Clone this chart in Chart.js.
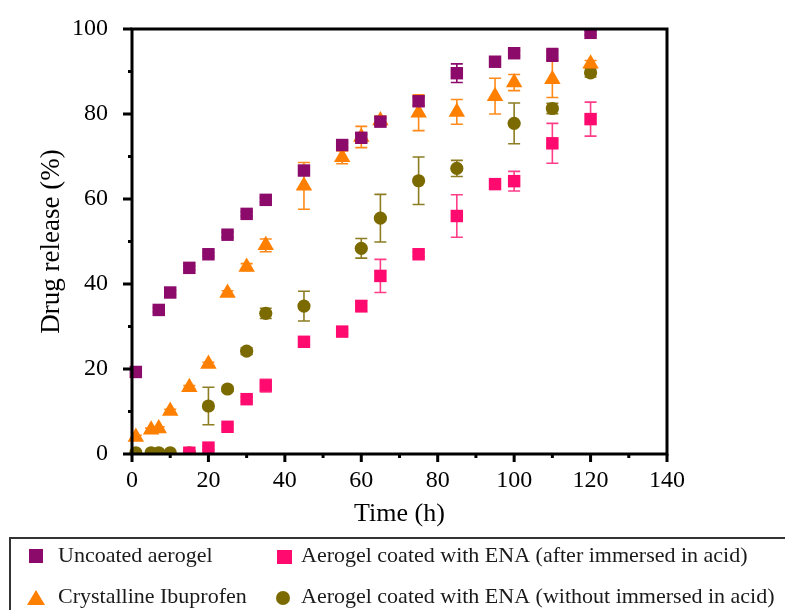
<!DOCTYPE html>
<html>
<head>
<meta charset="utf-8">
<title>Drug release</title>
<script src="https://cdn.jsdelivr.net/npm/chart.js@4.4.0/dist/chart.umd.min.js"></script>
<style>
    html, body { margin: 0; padding: 0; background: #fff; }
    #wrap { width: 785px; height: 610px; }
</style>
</head>
<body>
<div id="wrap"><canvas id="grafico" width="785" height="610"></canvas></div>
<script>
// Uncoated aerogel
const tempoUncoated = [1, 7, 10, 15, 20, 25, 30, 35, 45, 55, 60, 65, 75, 85, 95, 100, 110, 120];
const liberacaoUncoated = [19.3, 33.9, 38.0, 43.8, 47.0, 51.6, 56.5, 59.8, 66.7, 72.7, 74.4, 78.2, 83.0, 89.6, 92.3, 94.3, 93.9, 99.1];
const erroUncoated = [0.4, 0.5, 0.5, 0.5, 0.4, 0.6, 0.5, 0.5, 1.0, 0.6, 0.8, 0.8, 1.0, 2.2, 0.8, 0.6, 1.5, 0.5];

// Crystalline Ibuprofen
const tempoIbuprofeno = [1, 5, 7, 10, 15, 20, 25, 30, 35, 45, 55, 60, 65, 75, 85, 95, 100, 110, 120];
const liberacaoIbuprofeno = [4.0, 5.7, 6.0, 10.1, 15.7, 21.2, 37.9, 44.0, 49.1, 63.1, 69.8, 74.6, 78.5, 80.3, 80.5, 84.2, 87.4, 88.2, 91.8];
const erroIbuprofeno = [0.4, 0.4, 0.4, 0.4, 0.4, 0.4, 0.5, 0.8, 1.5, 5.5, 1.5, 2.5, 1.0, 4.2, 2.9, 4.2, 1.9, 4.3, 0.8];

// ENA, depois de imerso em ácido
const tempoAcido = [15, 20, 25, 30, 35, 45, 55, 60, 65, 75, 85, 95, 100, 110, 120];
const liberacaoAcido = [0.3, 1.5, 6.4, 12.9, 16.1, 26.4, 28.8, 34.8, 41.9, 47.0, 56.0, 63.5, 64.2, 73.1, 78.8];
const erroAcido = [0.3, 0.4, 0.5, 0.5, 1.5, 0.5, 0.5, 1.3, 3.9, 0.5, 5.0, 0.5, 2.3, 4.7, 4.0];

// ENA, sem imersão em ácido
const tempoSemAcido = [1, 5, 7, 10, 15, 20, 25, 30, 35, 45, 60, 65, 75, 85, 100, 110, 120];
const liberacaoSemAcido = [0.3, 0.3, 0.3, 0.3, 0.3, 11.3, 15.3, 24.2, 33.1, 34.8, 48.4, 55.5, 64.3, 67.2, 77.8, 81.3, 89.7];
const erroSemAcido = [0.2, 0.2, 0.2, 0.2, 0.2, 4.4, 0.5, 0.8, 1.2, 3.5, 2.3, 5.6, 5.6, 1.9, 4.8, 1.2, 1.0];

const rotulos = [
    'Uncoated aerogel',
    'Crystalline Ibuprofen',
    'Aerogel coated with ENA (after immersed in acid)',
    'Aerogel coated with ENA (without immersed in acid)'
];

// Marcas dos eixos
const ticksX = [0, 20, 40, 60, 80, 100, 120, 140];
const ticksXMenores = [10, 30, 50, 70, 90, 110, 130];
const ticksY = [0, 20, 40, 60, 80, 100];
const ticksYMenores = [10, 30, 50, 70, 90];

document.addEventListener('DOMContentLoaded', function() {
    const ctx = document.getElementById('grafico').getContext('2d');
    const fonte = '"Liberation Serif", "Times New Roman", serif';

    const cores = {
        roxo: '#8B0A6A',
        laranja: '#FF7F00',
        rosa: '#FF0A6E',
        oliva: '#7B6A00'
    };

    function pontos(tempos, valores) {
        return tempos.map((t, i) => ({ x: t, y: valores[i] }));
    }

    // Barras de erro desenhadas antes de cada série (ficam atrás dos marcadores)
    const barrasErro = {
        id: 'barrasErro',
        beforeDatasetDraw(chart, args) {
            const ds = chart.data.datasets[args.index];
            if (!ds.erros) return;
            const meta = chart.getDatasetMeta(args.index);
            const y = chart.scales.y;
            const c = chart.ctx;
            const area = chart.chartArea;
            c.save();
            c.beginPath();
            c.rect(area.left, area.top, area.right - area.left, area.bottom - area.top);
            c.clip();
            c.strokeStyle = ds.corErro;
            c.lineWidth = 1.6;
            meta.data.forEach((p, i) => {
                const v = ds.data[i].y;
                const e = ds.erros[i];
                const yTopo = y.getPixelForValue(v + e);
                const yBase = y.getPixelForValue(v - e);
                c.beginPath();
                c.moveTo(p.x, yTopo);
                c.lineTo(p.x, yBase);
                c.moveTo(p.x - 6, yTopo);
                c.lineTo(p.x + 6, yTopo);
                c.moveTo(p.x - 6, yBase);
                c.lineTo(p.x + 6, yBase);
                c.stroke();
            });
            c.restore();
        }
    };

    // Moldura e marcas dos eixos
    const moldura = {
        id: 'moldura',
        afterDatasetsDraw(chart) {
            const c = chart.ctx;
            const area = chart.chartArea;
            const x = chart.scales.x;
            const y = chart.scales.y;
            c.save();
            c.strokeStyle = '#000';
            c.lineWidth = 3;
            c.strokeRect(area.left, area.top, area.right - area.left, area.bottom - area.top);
            c.beginPath();
            ticksX.forEach(v => {
                const px = x.getPixelForValue(v);
                c.moveTo(px, area.bottom);
                c.lineTo(px, area.bottom + 8);
            });
            ticksXMenores.forEach(v => {
                const px = x.getPixelForValue(v);
                c.moveTo(px, area.bottom);
                c.lineTo(px, area.bottom + 4);
            });
            ticksY.forEach(v => {
                const py = y.getPixelForValue(v);
                c.moveTo(area.left, py);
                c.lineTo(area.left - 9, py);
            });
            ticksYMenores.forEach(v => {
                const py = y.getPixelForValue(v);
                c.moveTo(area.left, py);
                c.lineTo(area.left - 4, py);
            });
            c.stroke();
            c.restore();
        }
    };

    // Legenda em caixa, duas colunas
    const legenda = {
        id: 'legenda',
        afterDraw(chart) {
            const c = chart.ctx;
            c.save();
            c.strokeStyle = '#333';
            c.lineWidth = 2;
            c.strokeRect(10, 538, 800, 100);

            // marcadores
            c.fillStyle = cores.roxo;
            c.fillRect(29, 549, 14, 14);
            c.fillStyle = cores.rosa;
            c.fillRect(277, 550, 15, 14);
            c.fillStyle = cores.laranja;
            c.beginPath();
            c.moveTo(36, 590);
            c.lineTo(45, 605);
            c.lineTo(27, 605);
            c.closePath();
            c.fill();
            c.fillStyle = cores.oliva;
            c.beginPath();
            c.arc(283, 598, 7, 0, Math.PI * 2);
            c.fill();

            c.fillStyle = '#1a1a1a';
            c.font = '22px ' + fonte;
            c.textBaseline = 'middle';
            c.fillText(rotulos[0], 58, 556);
            c.fillText(rotulos[1], 58, 597);
            c.fillText(rotulos[2], 301, 556);
            c.fillText(rotulos[3], 301, 597);
            c.restore();
        }
    };

    const grafico = new Chart(ctx, {
        type: 'scatter',
        data: {
            datasets: [
                {
                    label: rotulos[0],
                    data: pontos(tempoUncoated, liberacaoUncoated),
                    erros: erroUncoated,
                    corErro: cores.roxo,
                    pointStyle: 'rect',
                    pointRadius: 8.8,
                    borderWidth: 0,
                    backgroundColor: cores.roxo
                },
                {
                    label: rotulos[1],
                    data: pontos(tempoIbuprofeno, liberacaoIbuprofeno),
                    erros: erroIbuprofeno,
                    corErro: '#FF8A1A',
                    pointStyle: 'triangle',
                    pointRadius: 9.5,
                    borderWidth: 0,
                    backgroundColor: cores.laranja
                },
                {
                    label: rotulos[2],
                    data: pontos(tempoAcido, liberacaoAcido),
                    erros: erroAcido,
                    corErro: '#FF3D88',
                    pointStyle: 'rect',
                    pointRadius: 8.8,
                    borderWidth: 0,
                    backgroundColor: cores.rosa
                },
                {
                    label: rotulos[3],
                    data: pontos(tempoSemAcido, liberacaoSemAcido),
                    erros: erroSemAcido,
                    corErro: '#8C7D22',
                    pointStyle: 'circle',
                    pointRadius: 6.6,
                    borderWidth: 0,
                    backgroundColor: cores.oliva
                }
            ]
        },
        options: {
            responsive: false,
            animation: false,
            clip: { left: 10, top: 0, right: 10, bottom: 0 },
            layout: { padding: { top: 29, right: 118, left: 0, bottom: 0 } },
            plugins: {
                legend: { display: false },
                tooltip: { enabled: false }
            },
            scales: {
                x: {
                    type: 'linear',
                    min: 0,
                    max: 140,
                    afterFit: s => { s.height = 156; },
                    afterBuildTicks: s => { s.ticks = ticksX.map(v => ({ value: v })); },
                    grid: { display: false, drawTicks: false },
                    border: { display: false },
                    ticks: {
                        padding: 12,
                        color: '#000',
                        font: { family: fonte, size: 24 }
                    },
                    title: {
                        display: true,
                        text: 'Time (h)',
                        color: '#000',
                        font: { family: fonte, size: 26 },
                        padding: { top: 0, bottom: 80 }
                    }
                },
                y: {
                    min: 0,
                    max: 100,
                    // largura fixa e sem folga extra em cima/embaixo
                    afterFit: s => { s.width = 132; s.paddingTop = 0; s.paddingBottom = 0; },
                    afterBuildTicks: s => { s.ticks = ticksY.map(v => ({ value: v })); },
                    grid: { display: false, drawTicks: false },
                    border: { display: false },
                    ticks: {
                        padding: 24,
                        color: '#000',
                        font: { family: fonte, size: 24 }
                    },
                    title: {
                        display: true,
                        text: 'Drug release (%)',
                        color: '#000',
                        font: { family: fonte, size: 27 },
                        padding: { top: 36, bottom: 0 }
                    }
                }
            }
        },
        plugins: [barrasErro, moldura, legenda]
    });
});
</script>
</body>
</html>
